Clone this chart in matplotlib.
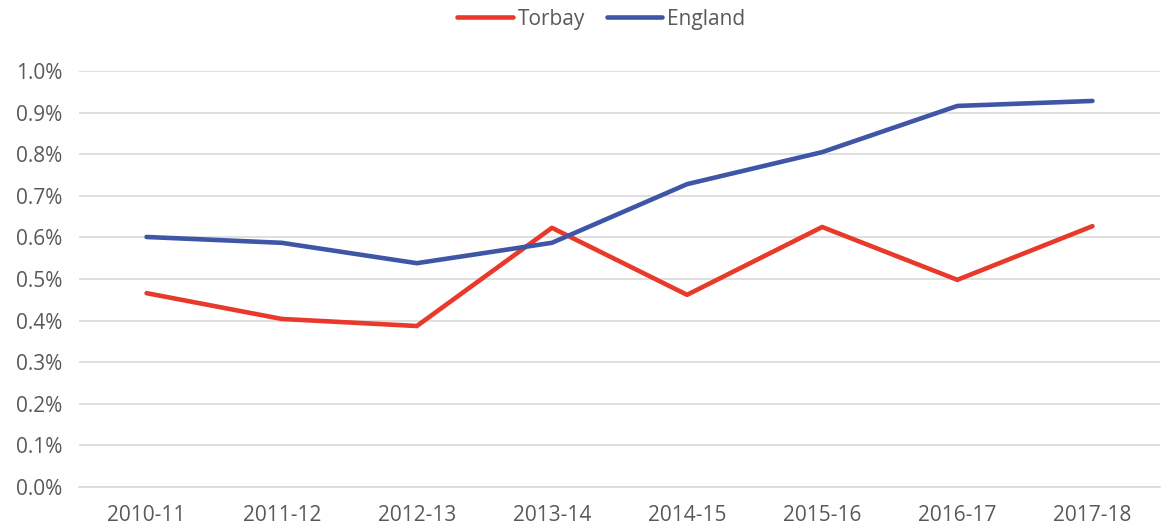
import matplotlib
matplotlib.use("Agg")
import matplotlib.pyplot as plt
from matplotlib.ticker import FuncFormatter

years = ["2010-11", "2011-12", "2012-13", "2013-14", "2014-15", "2015-16", "2016-17", "2017-18"]
torbay = [0.466, 0.404, 0.387, 0.623, 0.462, 0.625, 0.498, 0.627]
england = [0.601, 0.587, 0.538, 0.587, 0.728, 0.805, 0.916, 0.928]

plt.rcParams['font.family'] = ['Open Sans', 'DejaVu Sans']
text_col = '#595959'

fig = plt.figure(figsize=(11.71, 5.30), dpi=100)
ax = fig.add_axes([79/1171, 1-487/530, (1160-79)/1171, (487-71)/530])

x = list(range(len(years)))
ax.plot(x, torbay, color='#E8392B', lw=3.3, label='Torbay', solid_capstyle='round')
ax.plot(x, england, color='#3F56A6', lw=3.3, label='England', solid_capstyle='round')

ax.set_xlim(-0.5, len(years)-0.5)
ax.set_ylim(0, 1.0)
ax.set_yticks([i/10 for i in range(11)])
ax.yaxis.set_major_formatter(FuncFormatter(lambda v, p: f"{v:.1f}%"))
ax.set_xticks(x)
ax.set_xticklabels(years)
ax.grid(axis='y', color='#D9D9D9', lw=1.2)
ax.set_axisbelow(True)
for s in ['top', 'right', 'left']:
    ax.spines[s].set_visible(False)
ax.spines['bottom'].set_color('#D9D9D9')
ax.spines['bottom'].set_linewidth(1.2)
ax.tick_params(axis='both', length=0, labelsize=15, labelcolor=text_col)
ax.tick_params(axis='x', pad=13)
ax.tick_params(axis='y', pad=12)

leg = fig.legend(loc='center', bbox_to_anchor=(601.5/1171, 1-19/530), ncol=2, frameon=False,
                 fontsize=15, handlelength=2.65, handletextpad=0.25, columnspacing=1.05)
for t in leg.get_texts():
    t.set_color(text_col)

fig.savefig('out.png', dpi=100)
